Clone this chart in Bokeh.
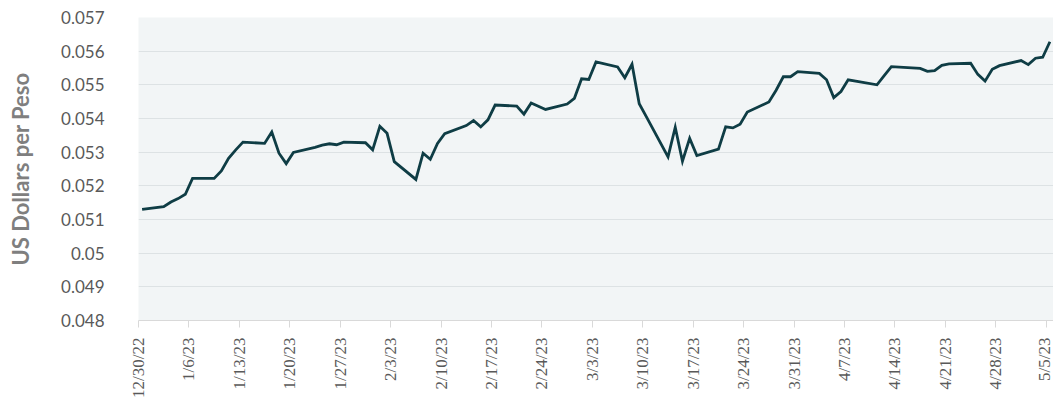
import math
import pandas as pd
from bokeh.plotting import figure
from bokeh.models import Range1d, FixedTicker, NumeralTickFormatter, CustomJSTickFormatter
from bokeh.embed import file_html
from bokeh.resources import INLINE

# ---- data ----
dates = [
    "2022-12-30", "2023-01-02", "2023-01-03", "2023-01-04", "2023-01-05", "2023-01-06",
    "2023-01-09", "2023-01-10", "2023-01-11", "2023-01-12", "2023-01-13",
    "2023-01-16", "2023-01-17", "2023-01-18", "2023-01-19", "2023-01-20",
    "2023-01-23", "2023-01-24", "2023-01-25", "2023-01-26", "2023-01-27",
    "2023-01-30", "2023-01-31", "2023-02-01", "2023-02-02", "2023-02-03",
    "2023-02-06", "2023-02-07", "2023-02-08", "2023-02-09", "2023-02-10",
    "2023-02-13", "2023-02-14", "2023-02-15", "2023-02-16", "2023-02-17",
    "2023-02-20", "2023-02-21", "2023-02-22", "2023-02-24",
    "2023-02-27", "2023-02-28", "2023-03-01", "2023-03-02", "2023-03-03",
    "2023-03-06", "2023-03-07", "2023-03-08", "2023-03-09", "2023-03-10",
    "2023-03-13", "2023-03-14", "2023-03-15", "2023-03-16", "2023-03-17",
    "2023-03-20", "2023-03-21", "2023-03-22", "2023-03-23", "2023-03-24",
    "2023-03-27", "2023-03-28", "2023-03-29", "2023-03-30", "2023-03-31",
    "2023-04-03", "2023-04-04", "2023-04-05", "2023-04-06", "2023-04-07",
    "2023-04-11", "2023-04-12", "2023-04-13",
    "2023-04-17", "2023-04-18", "2023-04-19", "2023-04-20", "2023-04-21",
    "2023-04-24", "2023-04-25", "2023-04-26", "2023-04-27", "2023-04-28",
    "2023-05-01", "2023-05-02", "2023-05-03", "2023-05-04", "2023-05-05",
]
usd_per_peso = [
    0.05130, 0.05138, 0.05152, 0.05162, 0.05175, 0.05222,
    0.05222, 0.05244, 0.05282, 0.05307, 0.05330,
    0.05326, 0.05360, 0.05297, 0.05266, 0.05299,
    0.05314, 0.05321, 0.05325, 0.05322, 0.05330,
    0.05328, 0.05307, 0.05377, 0.05356, 0.05272,
    0.05219, 0.05297, 0.05279, 0.05326, 0.05355,
    0.05379, 0.05394, 0.05375, 0.05396, 0.05440,
    0.05437, 0.05413, 0.05446, 0.05427,
    0.05443, 0.05460, 0.05518, 0.05516, 0.05568,
    0.05553, 0.05521, 0.05561, 0.05444, 0.05405,
    0.05286, 0.05374, 0.05273, 0.05341, 0.05290,
    0.05309, 0.05375, 0.05372, 0.05383, 0.05419,
    0.05449, 0.05484, 0.05524, 0.05524, 0.05539,
    0.05534, 0.05515, 0.05462, 0.05480, 0.05515,
    0.05500, 0.05527, 0.05554,
    0.05549, 0.05540, 0.05542, 0.05558, 0.05562,
    0.05564, 0.05531, 0.05511, 0.05546, 0.05557,
    0.05572, 0.05560, 0.05579, 0.05582, 0.05628,
]
y_ticks = [0.048, 0.049, 0.050, 0.051, 0.052, 0.053, 0.054, 0.055, 0.056, 0.057]
x_start = "2022-12-30"
x_end = "2023-05-06"
tick_step_days = 7
y_title = "US Dollars per Peso"

# ---- chart ----
xs = pd.to_datetime(dates) + pd.Timedelta(hours=12)
start = pd.Timestamp(x_start)
end = pd.Timestamp(x_end)
x_tick_dates = pd.date_range(start, end, freq=f"{tick_step_days}D")
x_tick_ms = [int(t.value // 10**6) for t in x_tick_dates]

p = figure(width=1053, height=400, x_axis_type="datetime",
           x_range=Range1d(start, end), y_range=Range1d(y_ticks[0], y_ticks[-1]),
           output_backend="svg", toolbar_location=None,
           min_border_left=138, min_border_right=0, min_border_top=17, min_border_bottom=79)

p.background_fill_color = "#f2f5f6"
p.border_fill_color = "white"
p.outline_line_color = None

p.line(xs, usd_per_peso, line_color="#0f3d45", line_width=2.8, line_join="miter")

# y axis
p.yaxis.ticker = FixedTicker(ticks=y_ticks)
p.yaxis.formatter = NumeralTickFormatter(format="0.[000]")
p.yaxis.axis_line_color = None
p.yaxis.major_tick_line_color = None
p.yaxis.minor_tick_line_color = None
p.yaxis.major_label_text_font = "Lato"
p.yaxis.major_label_text_font_size = "17px"
p.yaxis.major_label_text_color = "#595959"
p.yaxis.major_label_standoff = 28
p.yaxis.axis_label = y_title
p.yaxis.axis_label_text_font = "Lato"
p.yaxis.axis_label_text_font_style = "bold"
p.yaxis.axis_label_text_font_size = "22px"
p.yaxis.axis_label_text_color = "#7f7f7f"
p.yaxis.axis_label_standoff = 24

# x axis
p.xaxis.ticker = FixedTicker(ticks=x_tick_ms)
p.xaxis.formatter = CustomJSTickFormatter(code="""
    const d = new Date(tick);
    return (d.getUTCMonth() + 1) + "/" + d.getUTCDate() + "/" + String(d.getUTCFullYear()).slice(2);
""")
p.xaxis.major_label_orientation = math.pi / 2
p.xaxis.axis_line_color = "#d9d9d9"
p.xaxis.major_tick_line_color = "#d9d9d9"
p.xaxis.major_tick_out = 7
p.xaxis.major_tick_in = 0
p.xaxis.minor_tick_line_color = None
p.xaxis.major_label_text_font = "Liberation Sans Narrow"
p.xaxis.major_label_text_font_size = "17px"
p.xaxis.major_label_text_color = "#595959"
p.xaxis.major_label_standoff = 10

# grid
p.xgrid.grid_line_color = None
p.ygrid.ticker = FixedTicker(ticks=y_ticks)
p.ygrid.grid_line_color = "#dde2e4"
p.ygrid.grid_line_width = 1

open("out.html", "w").write(file_html(p, INLINE))
